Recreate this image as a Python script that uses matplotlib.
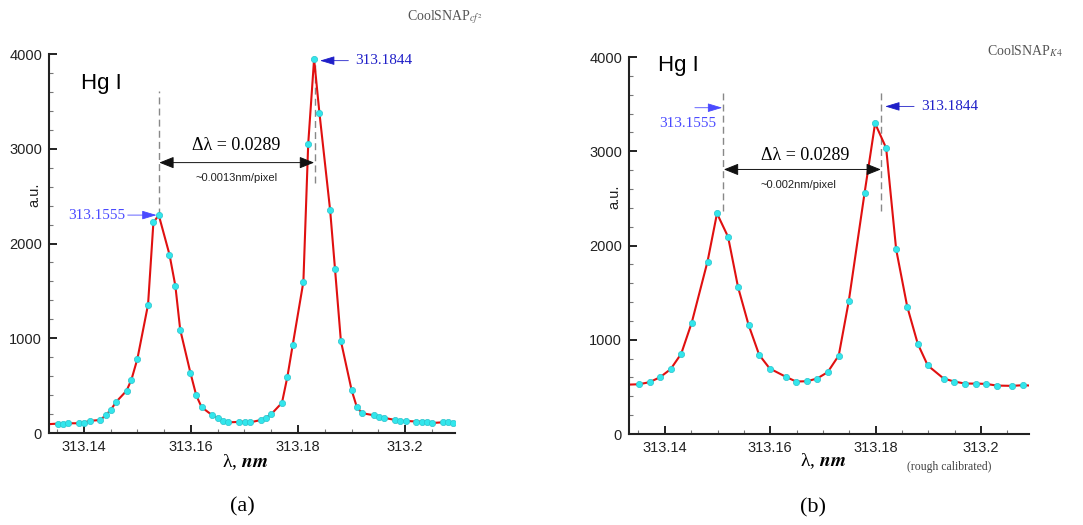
import numpy as np
import matplotlib
matplotlib.use("Agg")
import matplotlib.pyplot as plt
from matplotlib.ticker import MultipleLocator

plt.rcParams['font.family'] = ['Liberation Sans', 'DejaVu Sans']
plt.rcParams['mathtext.fontset'] = 'stix'

# spectrum (a) CoolSNAP cf2, ~0.0013 nm/pixel
wl_a = [313.1330, 313.1351, 313.1361, 313.1371, 313.1391, 313.1400, 313.1411, 313.1431,
        313.1441, 313.1451, 313.1460, 313.1480, 313.1489, 313.1500, 313.1520, 313.1530,
        313.1540, 313.1560, 313.1571, 313.1580, 313.1599, 313.1610, 313.1620, 313.1639,
        313.1650, 313.1660, 313.1670, 313.1690, 313.1701, 313.1711, 313.1731, 313.1740,
        313.1750, 313.1770, 313.1780, 313.1790, 313.1810, 313.1819, 313.1830, 313.1840,
        313.1860, 313.1869, 313.1880, 313.1900, 313.1910, 313.1920, 313.1941, 313.1951,
        313.1961, 313.1981, 313.1991, 313.2001, 313.2021, 313.2031, 313.2041, 313.2051,
        313.2070, 313.2080, 313.2090]
int_a = [92, 99, 96, 103, 103, 110, 128, 138,
         188, 248, 326, 447, 564, 780, 1355, 2222,
         2300, 1884, 1553, 1092, 638, 397, 273, 191,
         156, 131, 113, 117, 121, 113, 138, 163,
         199, 319, 589, 926, 1596, 3051, 3947, 3376,
         2349, 1734, 972, 454, 270, 209, 188, 167,
         160, 138, 128, 128, 121, 121, 121, 106,
         113, 113, 110]

# spectrum (b) CoolSNAP K4, ~0.002 nm/pixel
wl_b = [313.1320, 313.1351, 313.1371, 313.1391, 313.1411, 313.1431, 313.1451, 313.1481,
        313.1499, 313.1520, 313.1539, 313.1559, 313.1579, 313.1599, 313.1630, 313.1649,
        313.1670, 313.1689, 313.1709, 313.1730, 313.1749, 313.1779, 313.1799, 313.1820,
        313.1839, 313.1860, 313.1880, 313.1899, 313.1929, 313.1949, 313.1970, 313.1990,
        313.2009, 313.2030, 313.2059, 313.2080, 313.2100]
int_b = [522, 528, 550, 603, 688, 851, 1181, 1830,
         2340, 2092, 1557, 1156, 840, 695, 606, 557,
         560, 589, 656, 833, 1408, 2556, 3296, 3034,
         1958, 1351, 957, 727, 589, 557, 535, 535,
         532, 514, 511, 518, 512]

xticks = [313.14, 313.16, 313.18, 313.2]
xtick_labels = ['313.14', '313.16', '313.18', '313.2']
yticks = [0, 1000, 2000, 3000, 4000]
peak_labels = ['313.1555', '313.1844']

fig = plt.figure(figsize=(10.83, 5.25), dpi=100)
ax1 = fig.add_axes([0.0452, 0.1752, 0.3749, 0.7219])
ax2 = fig.add_axes([0.5808, 0.1733, 0.3693, 0.7181])


def style_axis(ax, xlim):
    ax.set_xlim(*xlim)
    ax.set_ylim(0, 4000)
    for s in ['top', 'right']:
        ax.spines[s].set_visible(False)
    for s in ['left', 'bottom']:
        ax.spines[s].set_linewidth(1.5)
        ax.spines[s].set_color('#222222')
    ax.set_xticks(xticks)
    ax.set_xticklabels(xtick_labels)
    ax.set_yticks(yticks)
    ax.xaxis.set_minor_locator(MultipleLocator(0.005))
    ax.yaxis.set_minor_locator(MultipleLocator(200))
    ax.tick_params(which='major', direction='in', length=6, width=1.4,
                   labelsize=10.5, colors='#222222', pad=5)
    ax.tick_params(which='minor', direction='in', length=3, width=0.8, colors='#777777')
    ax.text(-0.037, 0.628, 'a.u.', rotation=90, transform=ax.transAxes,
            ha='center', va='center', fontsize=10.5, color='#222222')


def plot_spec(ax, x, y):
    ax.plot(x, y, color='#e01010', lw=1.5, marker='o', markersize=4.5,
            markerfacecolor='#33e6ec', markeredgecolor='#2cc4cc', markeredgewidth=0.5)


def dbl_arrow(ax, x0, x1, y):
    ax.annotate('', xy=(x1, y), xytext=(x0, y),
                arrowprops=dict(arrowstyle='<|-|>,head_length=0.5,head_width=0.2',
                                mutation_scale=18, color='#111111', lw=0.7,
                                shrinkA=0, shrinkB=0))


def blue_arrow(ax, x0, x1, y, c):
    ax.annotate('', xy=(x1, y), xytext=(x0, y),
                arrowprops=dict(arrowstyle='-|>,head_length=0.6,head_width=0.18',
                                mutation_scale=15, color=c, lw=0.6,
                                shrinkA=0, shrinkB=0))


serif = ['Liberation Serif', 'DejaVu Serif']
light_blue = '#4a4aff'
dark_blue = '#1f1fc8'
xlab = 'λ, $\\mathbfit{nm}$'

# ---- panel (a)
plot_spec(ax1, wl_a, int_a)
style_axis(ax1, (313.1335, 313.2093))
ax1.text(313.1395, 3690, 'Hg I', fontsize=16, ha='left', va='center')
ax1.plot([313.1540, 313.1540], [2300, 3605], color='#888888', lw=1, dashes=(5, 3), zorder=1)
ax1.plot([313.1831, 313.1831], [2640, 3900], color='#888888', lw=1, dashes=(5, 3), zorder=1)
dbl_arrow(ax1, 313.1541, 313.1830, 2854)
ax1.text(313.1685, 3030, 'Δλ = 0.0289', family=serif, fontsize=13, ha='center', va='center')
ax1.text(313.1685, 2688, '~0.0013nm/pixel', fontsize=8, ha='center', va='center', color='#222222')
ax1.text(313.1478, 2300, peak_labels[0], family=serif, fontsize=11, color=light_blue,
         ha='right', va='center')
blue_arrow(ax1, 313.1482, 313.1536, 2300, light_blue)
ax1.text(313.1906, 3930, peak_labels[1], family=serif, fontsize=11, color=dark_blue,
         ha='left', va='center')
blue_arrow(ax1, 313.1894, 313.1841, 3930, dark_blue)
ax1.text(0.483, -0.076, xlab, transform=ax1.transAxes, family=serif,
         fontsize=14, ha='center', va='center')

# ---- panel (b)
plot_spec(ax2, wl_b, int_b)
style_axis(ax2, (313.1332, 313.2091))
ax2.text(313.1387, 3915, 'Hg I', fontsize=16, ha='left', va='center')
ax2.plot([313.1511, 313.1511], [2370, 3618], color='#888888', lw=1, dashes=(5, 3), zorder=1)
ax2.plot([313.1811, 313.1811], [2365, 3639], color='#888888', lw=1, dashes=(5, 3), zorder=1)
dbl_arrow(ax2, 313.1512, 313.1810, 2807)
ax2.text(313.1666, 2960, 'Δλ = 0.0289', family=serif, fontsize=13, ha='center', va='center')
ax2.text(313.1653, 2644, '~0.002nm/pixel', fontsize=8, ha='center', va='center', color='#222222')
ax2.text(313.1444, 3299, peak_labels[0], family=serif, fontsize=11, color=light_blue,
         ha='center', va='center')
blue_arrow(ax2, 313.1457, 313.1509, 3462, light_blue)
ax2.text(313.1886, 3476, peak_labels[1], family=serif, fontsize=11, color=dark_blue,
         ha='left', va='center')
blue_arrow(ax2, 313.1873, 313.1818, 3476, dark_blue)
ax2.text(0.485, -0.072, xlab, transform=ax2.transAxes, family=serif,
         fontsize=14, ha='center', va='center')

# camera names, captions
fig.text(0.376, 0.962, r'CoolSNAP$_{cf^2}$', family=serif, fontsize=10, color='#555555',
         ha='left', va='baseline')
fig.text(0.911, 0.895, r'CoolSNAP$_{K4}$', family=serif, fontsize=10, color='#555555',
         ha='left', va='baseline')
fig.text(0.876, 0.110, '(rough calibrated)', family=serif, fontsize=8.5, color='#444444',
         ha='center', va='center')
fig.text(0.224, 0.034, '(a)', family=serif, fontsize=16, ha='center', va='center')
fig.text(0.751, 0.032, '(b)', family=serif, fontsize=16, ha='center', va='center')

fig.savefig('out.png', dpi=100)
